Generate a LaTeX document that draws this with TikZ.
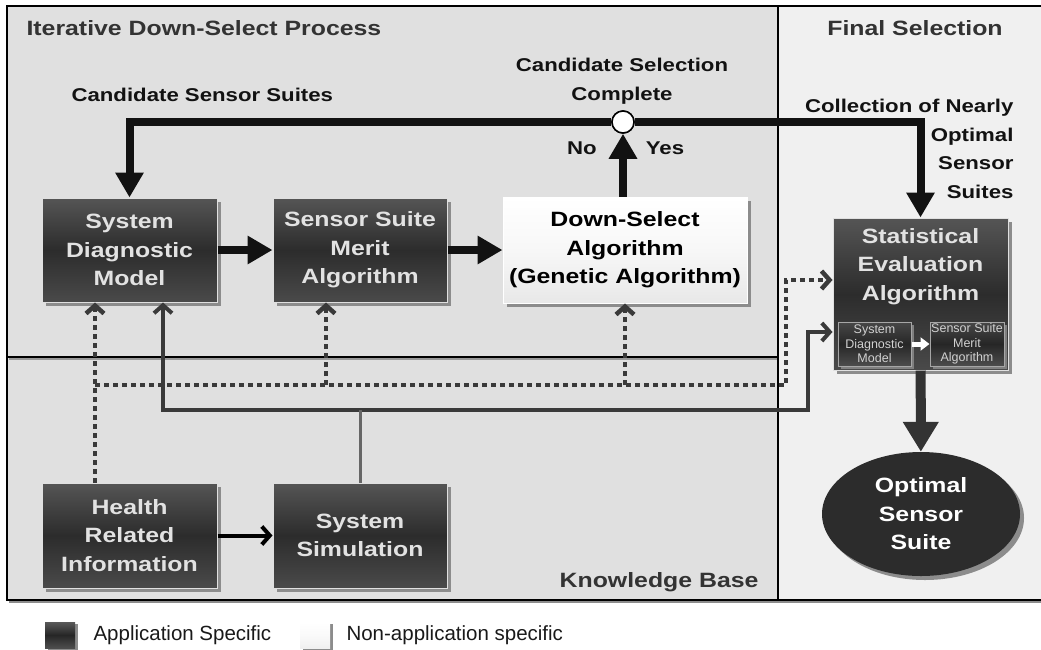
\documentclass[tikz,border=0pt]{standalone}
\usepackage{fontspec}
\setmainfont{Liberation Sans}[BoldFeatures={FakeStretch=1.2}]
\usetikzlibrary{arrows.meta,positioning,shadows,shapes.geometric}

\definecolor{regiongray}{HTML}{E0E0E0}
\definecolor{finalgray}{HTML}{F0F0F0}
\definecolor{boxtop}{HTML}{555555}
\definecolor{boxmid}{HTML}{2C2C2C}
\definecolor{boxbot}{HTML}{4A4A4A}
\definecolor{boxtext}{HTML}{E2E2E2}
\definecolor{titlegray}{HTML}{333333}
\definecolor{linkgray}{HTML}{3A3A3A}

\newcommand{\dgbig}{\fontsize{20.7}{28.5}\selectfont\bfseries}
\newcommand{\dglabel}{\fontsize{18.5}{28.5}\selectfont\bfseries}
\newcommand{\dgsmall}{\fontsize{12.5}{14.5}\selectfont}
\newcommand{\dglegend}{\fontsize{20.5}{24}\selectfont}

\begin{document}
\begin{tikzpicture}[x=1pt, y=-1pt,
	appbox/.style={draw=black!12, line width=1pt, top color=boxtop, bottom color=boxbot, middle color=boxmid,
		text=boxtext, font=\dgbig, align=center, inner sep=0pt,
		drop shadow={shadow xshift=4pt, shadow yshift=-4pt, fill=black!45, opacity=1}},
	openbox/.style={appbox, draw=white, top color=white, bottom color=black!9, middle color=black!3, text=black},
	innerbox/.style={draw=black!35, line width=1pt, top color=black!72, bottom color=black!70, middle color=black!85,
		text=black!18, font=\dgsmall, align=center, inner sep=0pt, minimum height=44, minimum width=73,
		drop shadow={shadow xshift=2.5pt, shadow yshift=-2.5pt, fill=black!50, opacity=1}},
	titletext/.style={text=titlegray, font=\dgbig},
	flowlabel/.style={text=black!93, font=\dglabel, align=center},
	bigarrow/.style={draw=black!93, line width=8pt, -{Triangle[length=25pt, width=27pt]}},
	dotline/.style={draw=linkgray, line width=4.5pt, dash pattern=on 5pt off 4pt},
	kbline/.style={draw=linkgray, line width=4pt},
	barb/.style={-{Straight Barb[length=8pt, width=18pt]}},
	legbox/.style={minimum width=30, minimum height=26, inner sep=0pt,
		drop shadow={shadow xshift=3pt, shadow yshift=-2pt, fill=black!45, opacity=1}}]

	%% fixed frame of the picture
	\useasboundingbox (0,0) rectangle (1041,649);

	%% regions
	\fill[regiongray] (7,6) rectangle (778,600);
	\fill[finalgray] (778,6) rectangle (1041,600);
	\draw[black!45, line width=2pt] (9,602) -- (1041,602);
	\draw[black!40, line width=2pt] (9,359) -- (778,359);
	\draw[line width=1.5pt] (1041,6) -- (7,6) -- (7,600) -- (1041,600);
	\draw[line width=1.5pt] (778,6) -- (778,600);
	\draw[line width=1.5pt] (7,357) -- (778,357);

	\node[titletext, anchor=west] (proctitle) at (23,28) {Iterative Down-Select Process};
	\node[titletext] (finaltitle) at (915,28) {Final Selection};
	\node[titletext, anchor=east] (kbtitle) at (762,582) {Knowledge Base};

	%% process boxes
	\node[appbox, minimum width=175, minimum height=104] (sdm) at (129.5,250) {System\\Diagnostic\\Model};
	\node[appbox, minimum width=174, minimum height=104] (ssma) at (360,250) {Sensor Suite\\Merit\\Algorithm};
	\node[openbox, minimum width=244, minimum height=106] (ds) at (625,250) {Down-Select\\Algorithm\\(Genetic Algorithm)};
	\node[appbox, minimum width=175, minimum height=105] (health) at (129.5,535.5) {Health\\Related\\Information};
	\node[appbox, minimum width=174, minimum height=105] (sim) at (360,535.5) {System\\Simulation};

	\node[appbox, minimum width=175, minimum height=152] (stat) at (920.5,294) {};
	\node[text=boxtext, font=\dgbig, align=center, below=7pt of stat.north] (statname) {Statistical\\Evaluation\\Algorithm};
	\node[innerbox] (sdminner) at (874.5,344) {System\\Diagnostic\\Model};
	\node[innerbox, minimum width=74] (ssmainner) at (967,344) {Sensor Suite\\Merit\\Algorithm};
	\draw[white, line width=5pt, -{Triangle[length=9pt, width=13pt]}] (sdminner) -- (ssmainner);

	\node[ellipse, fill=boxmid, minimum width=198, minimum height=124, inner sep=0pt, text=white, font=\dgbig, align=center,
		drop shadow={shadow xshift=4pt, shadow yshift=-4pt, fill=black!45, opacity=1}] (opt) at (921,514) {Optimal\\Sensor\\Suite};

	%% decision point
	\node[circle, draw, line width=1.5pt, fill=white, minimum size=22, inner sep=0pt] (done) at (623,122) {};

	%% labels
	\node[flowlabel, anchor=west] (candlabel) at (68,95) {Candidate Sensor Suites};
	\node[flowlabel] (donelabel) at (622,81) {Candidate Selection\\Complete};
	\node[flowlabel] (nolabel) at (582,148) {No};
	\node[flowlabel] (yeslabel) at (665,148) {Yes};
	\node[flowlabel, anchor=east, align=right] (colllabel) at (1017,149) {Collection of Nearly\\Optimal\\Sensor\\Suites};

	%% main loop
	\draw[bigarrow] (sdm) -- (ssma);
	\draw[bigarrow] (ssma) -- (ds);
	\draw[bigarrow] (ds.north -| done) -- (done);
	\draw[bigarrow] (done) -| (sdm.north);
	\draw[bigarrow] (done) -| (stat.north);
	\node[circle, draw, line width=1.5pt, fill=white, minimum size=22, inner sep=0pt] at (done) {};

	\draw[draw=black!80, line width=10pt, -{Triangle[length=30pt, width=34pt]}] (stat) -- (opt);

	%% knowledge base links
	\coordinate (dotleft) at (95,385);
	\coordinate (dotright) at (786,385);
	\coordinate (kbright) at (808,410);

	\draw[dotline, barb] (health.north -| dotleft) -- (sdm.south -| dotleft);
	\draw[dotline, barb] (dotleft) -- (dotright) |- ([yshift=14pt]stat.west);
	\draw[dotline, barb] ([xshift=-34pt]ssma.south |- dotleft) -- ([xshift=-34pt]ssma.south);
	\draw[dotline, barb] (ds.south |- dotleft) -- (ds.south);

	\draw[kbline, {Straight Barb[length=8pt, width=18pt]}-{Straight Barb[length=8pt, width=18pt]}]
		([xshift=33.5pt]sdm.south) |- (kbright) |- ([yshift=-38pt]stat.west);
	\draw[draw=black!60, line width=3pt] (sim.north) -- (sim.north |- kbright);

	\draw[draw=black, line width=4pt, barb] (health) -- (sim);

	%% legend
	\node[legbox, top color=black!65, bottom color=black!70, middle color=black!85] (legapp) at (60,635) {};
	\node[font=\dglegend, text=black!90, anchor=west] (legapptext) at (90,635) {Application Specific};
	\node[legbox, top color=white, bottom color=black!6, middle color=black!2] (legnon) at (315,635) {};
	\node[font=\dglegend, text=black!90, anchor=west] (legnontext) at (343,635) {Non-application specific};

\end{tikzpicture}
\end{document}
